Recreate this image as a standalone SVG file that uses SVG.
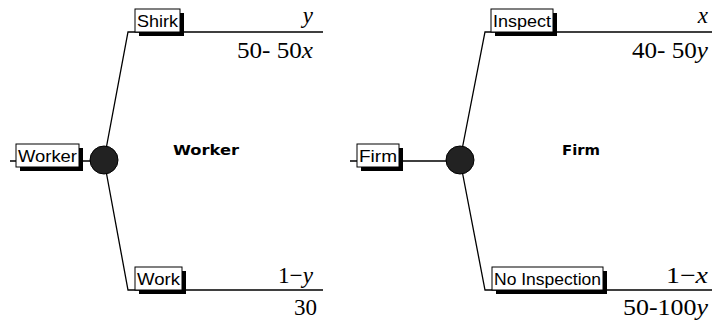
<svg xmlns="http://www.w3.org/2000/svg" width="712" height="320" viewBox="0 0 712 320">
<style>
.ln{stroke:#000;stroke-width:1.3;fill:none}
.sh{fill:#000}
.bx{fill:#fff;stroke:#000;stroke-width:1}
.lb{font-family:"Liberation Sans",Arial,sans-serif;font-size:17px;fill:#000}
.pl{font-family:"Liberation Serif","Times New Roman",serif;font-size:23px;fill:#000}
.pl tspan.v{font-style:italic}
.nm{font-family:"DejaVu Sans",Verdana,sans-serif;font-size:14px;font-weight:bold;fill:#000}
.nd{fill:#222;stroke:#000;stroke-width:1}
</style>
<rect width="712" height="320" fill="#fff"/>
<g id="connectors">
<path class="ln" d="M10,161H16M79,161H104"/>
<path class="ln" d="M104,160L128,32H323"/>
<path class="ln" d="M104,160L128,290H323"/>
<path class="ln" d="M350,161H357M399,161H460"/>
<path class="ln" d="M460,160L485,32H712"/>
<path class="ln" d="M460,160L485,290H712"/>
</g>
<g id="worker-node">
<rect class="sh" x="20" y="148" width="63" height="23"/>
<rect class="bx" x="16" y="144" width="63" height="23"/>
<text class="lb" x="18" y="162" textLength="59" lengthAdjust="spacingAndGlyphs">Worker</text>
<circle class="nd" cx="104" cy="160" r="14"/>
<text class="nm" x="173" y="155" textLength="66" lengthAdjust="spacingAndGlyphs">Worker</text>
</g>
<g id="shirk">
<rect class="sh" x="139" y="13" width="45" height="23"/>
<rect class="bx" x="135" y="9" width="45" height="23"/>
<text class="lb" x="137" y="27" textLength="41" lengthAdjust="spacingAndGlyphs">Shirk</text>
<text class="pl" x="313" y="23" text-anchor="end"><tspan class="v">y</tspan></text>
<text class="pl" x="237" y="58" textLength="76" lengthAdjust="spacingAndGlyphs">50- 50<tspan class="v">x</tspan></text>
</g>
<g id="work">
<rect class="sh" x="139" y="271" width="47" height="23"/>
<rect class="bx" x="135" y="267" width="47" height="23"/>
<text class="lb" x="137" y="285" textLength="43" lengthAdjust="spacingAndGlyphs">Work</text>
<text class="pl" x="278" y="283" textLength="35" lengthAdjust="spacingAndGlyphs">1−<tspan class="v">y</tspan></text>
<text class="pl" x="317" y="315" text-anchor="end">30</text>
</g>
<g id="firm-node">
<rect class="sh" x="361" y="148" width="42" height="23"/>
<rect class="bx" x="357" y="144" width="42" height="23"/>
<text class="lb" x="359" y="162" textLength="38" lengthAdjust="spacingAndGlyphs">Firm</text>
<circle class="nd" cx="460" cy="160" r="14"/>
<text class="nm" x="562" y="155" textLength="38" lengthAdjust="spacingAndGlyphs">Firm</text>
</g>
<g id="inspect">
<rect class="sh" x="495" y="13" width="62" height="23"/>
<rect class="bx" x="491" y="9" width="62" height="23"/>
<text class="lb" x="493" y="27" textLength="58" lengthAdjust="spacingAndGlyphs">Inspect</text>
<text class="pl" x="708" y="23" text-anchor="end"><tspan class="v">x</tspan></text>
<text class="pl" x="632" y="58" textLength="76" lengthAdjust="spacingAndGlyphs">40- 50<tspan class="v">y</tspan></text>
</g>
<g id="no-inspection">
<rect class="sh" x="496" y="271" width="111" height="23"/>
<rect class="bx" x="492" y="267" width="111" height="23"/>
<text class="lb" x="494" y="285" textLength="107" lengthAdjust="spacingAndGlyphs">No Inspection</text>
<text class="pl" x="666" y="283" textLength="42" lengthAdjust="spacingAndGlyphs">1−<tspan class="v">x</tspan></text>
<text class="pl" x="623" y="315" textLength="85" lengthAdjust="spacingAndGlyphs">50-100<tspan class="v">y</tspan></text>
</g>
</svg>
